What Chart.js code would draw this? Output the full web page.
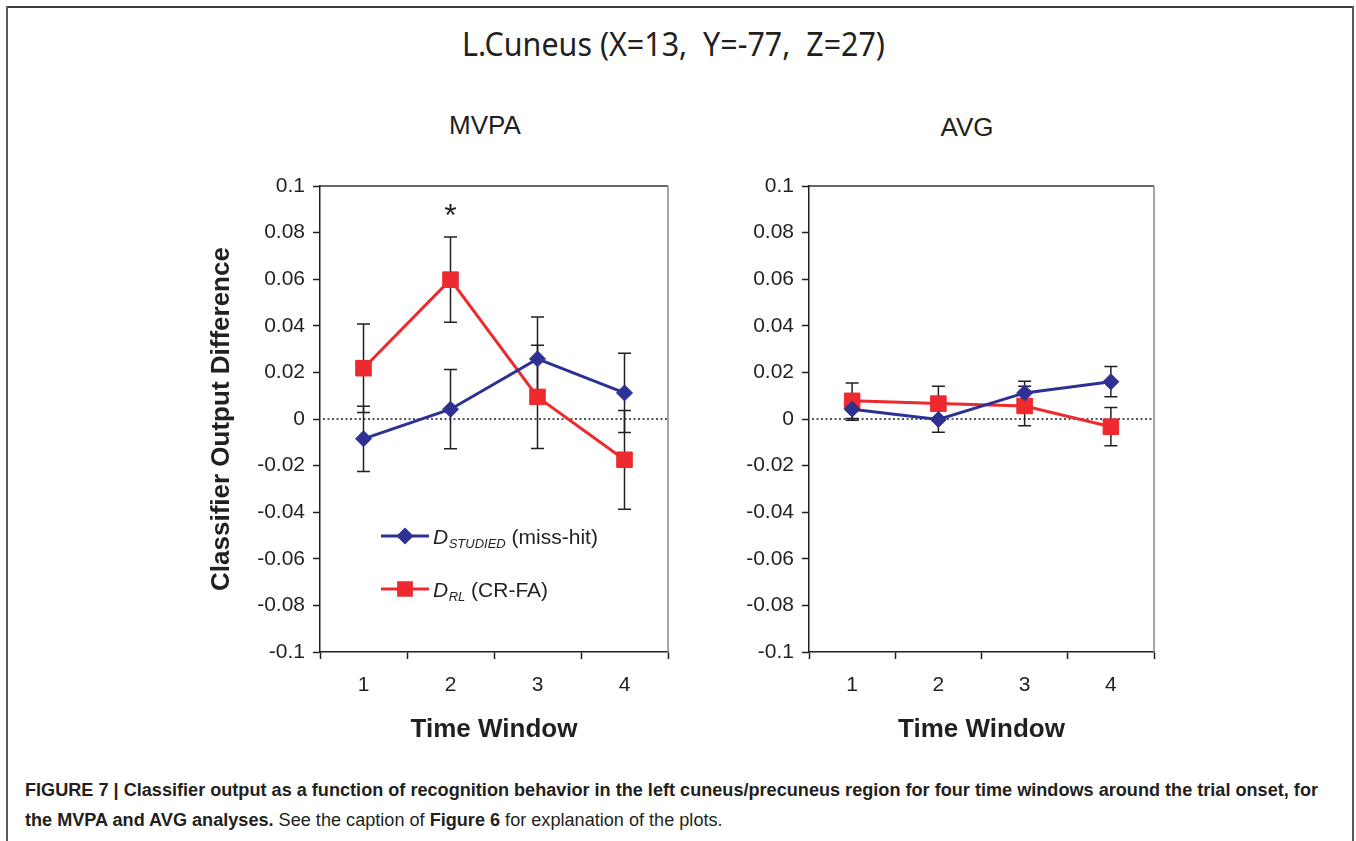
<!DOCTYPE html>
<html lang="en">
<head>
<meta charset="UTF-8">
<title>L.Cuneus - classifier output</title>
<script src="https://cdn.jsdelivr.net/npm/chart.js"></script>
<style>
  html, body { margin: 0; padding: 0; background: #fff; }
  body { width: 1356px; height: 841px; position: relative; overflow: hidden;
         font-family: "Liberation Sans", Arial, sans-serif; color: #231f20; }
  .line { position: absolute; }
  #frameTop { left: 6px; top: 6px; width: 1348px; height: 2px; background: #3c3c3c; }
  #frameLeft { left: 6px; top: 6px; width: 2px; height: 835px; background: #5a5a5a; }
  #frameRight { left: 1352px; top: 6px; width: 2px; height: 835px; background: #5a5a5a; }
  #title { position: absolute; left: 462px; top: 24px; font-family: "Noto Sans", sans-serif;
           font-size: 33px; line-height: 40px; white-space: pre; transform-origin: 0 0; }
  .sub { position: absolute; width: 200px; text-align: center; font-size: 26px; line-height: 30px; }
  .box { position: absolute; }
  #caption { position: absolute; left: 25px; top: 775px; font-size: 18px; line-height: 30px;
             white-space: nowrap; transform-origin: 0 0; }
  #caption b { font-weight: bold; }
</style>
</head>
<body>
<div class="line" id="frameTop"></div>
<div class="line" id="frameLeft"></div>
<div class="line" id="frameRight"></div>

<div id="title">L.Cuneus (X=13,  Y=-77,  Z=27)</div>
<div class="sub" style="left:385px; top:110px;">MVPA</div>
<div class="sub" style="left:867px; top:112px;">AVG</div>

<div class="box" style="left:190px; top:140px;"><canvas id="mvpa" width="500" height="620"></canvas></div>
<div class="box" style="left:700px; top:140px;"><canvas id="avg" width="480" height="620"></canvas></div>

<div id="caption">
  <div id="cap1"><b>FIGURE 7 | Classifier output as a function of recognition behavior in the left cuneus/precuneus region for four time windows around the trial onset, for</b></div>
  <div><b>the MVPA and AVG analyses.</b> See the caption of <b>Figure 6</b> for explanation of the plots.</div>
</div>

<script>
// data
const windows = ['1', '2', '3', '4'];
const yTickLabels = ['-0.1', '-0.08', '-0.06', '-0.04', '-0.02', '0', '0.02', '0.04', '0.06', '0.08', '0.1'];

const mvpaStudied    = [-0.0085, 0.0042, 0.0258, 0.0112];
const mvpaStudiedErr = [0.0140, 0.0170, 0.0180, 0.0170];
const mvpaRL         = [0.0218, 0.0598, 0.0095, -0.0175];
const mvpaRLErr      = [0.0190, 0.0183, 0.0222, 0.0212];

const avgStudied    = [0.0042, -0.0002, 0.0112, 0.0160];
const avgStudiedErr = [0.0047, 0.0055, 0.0050, 0.0065];
const avgRL         = [0.0078, 0.0066, 0.0056, -0.0033];
const avgRLErr      = [0.0076, 0.0075, 0.0085, 0.0082];

const mvpaSignif = ['', '*', '', ''];
const signifLevel = 0.088;

const BLUE = '#2e3192';
const RED = '#ec2a2f';
const INK = '#231f20';

Chart.defaults.font.family = '"Liberation Sans", Arial, sans-serif';
Chart.defaults.color = INK;

// error bars + dotted zero line, drawn under the series
const underlay = {
  id: 'underlay',
  beforeDatasetsDraw(chart) {
    const ctx = chart.ctx, y = chart.scales.y, a = chart.chartArea;
    ctx.save();
    ctx.strokeStyle = INK;
    ctx.lineWidth = 1.5;
    ctx.setLineDash([2, 2.5]);
    ctx.beginPath();
    ctx.moveTo(a.left + 3, y.getPixelForValue(0));
    ctx.lineTo(a.right, y.getPixelForValue(0));
    ctx.stroke();
    ctx.setLineDash([]);
    chart.data.datasets.forEach((ds, i) => {
      const meta = chart.getDatasetMeta(i);
      ds.data.forEach((v, j) => {
        const x = meta.data[j].x;
        const top = y.getPixelForValue(v + ds.errors[j]);
        const bot = y.getPixelForValue(v - ds.errors[j]);
        ctx.beginPath();
        ctx.moveTo(x, top); ctx.lineTo(x, bot);
        ctx.moveTo(x - 6.5, top); ctx.lineTo(x + 6.5, top);
        ctx.moveTo(x - 6.5, bot); ctx.lineTo(x + 6.5, bot);
        ctx.stroke();
      });
    });
    ctx.restore();
  },
  afterDraw(chart) {
    // top and right edges of the plot box
    const ctx = chart.ctx, a = chart.chartArea;
    ctx.save();
    ctx.lineWidth = 1.5;
    ctx.strokeStyle = '#333';
    ctx.beginPath();
    ctx.moveTo(a.left, a.top); ctx.lineTo(a.right, a.top);
    ctx.stroke();
    ctx.strokeStyle = '#8a8a8a';
    ctx.beginPath();
    ctx.moveTo(a.right, a.top); ctx.lineTo(a.right, a.bottom);
    ctx.stroke();
    ctx.restore();
  }
};

// significance stars and the in-plot legend (subscripted labels)
const annot = {
  id: 'annot',
  afterDraw(chart, args, opts) {
    const ctx = chart.ctx, a = chart.chartArea;
    ctx.save();
    if (opts.marks) {
      const meta = chart.getDatasetMeta(0);
      ctx.font = '32px "Liberation Sans", Arial';
      ctx.fillStyle = INK;
      ctx.textAlign = 'center';
      ctx.textBaseline = 'alphabetic';
      opts.marks.forEach((m, j) => {
        if (m) ctx.fillText(m, meta.data[j].x, chart.scales.y.getPixelForValue(signifLevel) + 12);
      });
    }
    if (opts.legend) {
      opts.legend.forEach((item, k) => {
        const x0 = a.left + 61;
        const yc = a.top + 350 + k * 53;
        ctx.strokeStyle = item.color;
        ctx.fillStyle = item.color;
        ctx.lineWidth = 3;
        ctx.beginPath();
        ctx.moveTo(x0, yc); ctx.lineTo(x0 + 48, yc);
        ctx.stroke();
        Chart.helpers.drawPoint(ctx, { pointStyle: item.style, radius: item.r, borderWidth: 1 }, x0 + 24, yc);
        ctx.fill();
        ctx.fillStyle = INK;
        ctx.textAlign = 'left';
        ctx.textBaseline = 'alphabetic';
        let x = x0 + 52;
        const base = yc + 7.5;
        ctx.font = 'italic 21px "Liberation Sans", Arial';
        ctx.fillText('D', x, base);
        x += ctx.measureText('D').width + 0.5;
        ctx.font = 'italic 13px "Liberation Sans", Arial';
        ctx.fillText(item.sub, x, base + 4);
        x += ctx.measureText(item.sub).width;
        ctx.font = '21px "Liberation Sans", Arial';
        ctx.fillText(' ' + item.rest, x, base);
      });
    }
    ctx.restore();
  }
};

function series(label, values, errors, color, style, radius) {
  return {
    label, data: values, errors,
    borderColor: color, backgroundColor: color,
    borderWidth: 3, pointStyle: style, pointRadius: radius,
    pointBorderWidth: 1, pointBackgroundColor: color, pointBorderColor: color,
    tension: 0
  };
}

function buildChart(id, studied, studiedErr, rl, rlErr, yWidth, padRight, yTitle, extra) {
  return new Chart(document.getElementById(id), {
    type: 'line',
    data: {
      labels: windows,
      datasets: [
        series('D STUDIED (miss-hit)', studied, studiedErr, BLUE, 'rectRot', 8),
        series('D RL (CR-FA)', rl, rlErr, RED, 'rect', 11)
      ]
    },
    options: {
      responsive: false,
      animation: false,
      layout: { padding: { top: 46, right: padRight, bottom: 0, left: 0 } },
      plugins: {
        legend: { display: false },
        tooltip: { enabled: false },
        annot: extra
      },
      scales: {
        x: {
          type: 'category',
          offset: true,
          grid: { offset: true, drawOnChartArea: false, tickLength: 7, tickWidth: 1.5, tickColor: INK },
          border: { color: INK, width: 1.5 },
          ticks: { font: { size: 21 }, padding: 14, maxRotation: 0 },
          title: { display: true, text: 'Time Window', font: { size: 26, weight: 'bold' }, padding: { top: 4, bottom: 15 } },
          afterFit: s => { s.height = 108; }
        },
        y: {
          min: -0.1, max: 0.1,
          grid: { drawOnChartArea: false, tickLength: 7, tickWidth: 1.5, tickColor: INK },
          border: { color: INK, width: 1.5 },
          ticks: { stepSize: 0.02, font: { size: 21 }, padding: 8, callback: (v, i) => yTickLabels[i] },
          title: { display: !!yTitle, text: yTitle || '', font: { size: 26, weight: 'bold' }, padding: { top: 16, bottom: 4 } },
          afterFit: s => { s.width = yWidth; }
        }
      }
    },
    plugins: [underlay, annot]
  });
}

buildChart('mvpa', mvpaStudied, mvpaStudiedErr, mvpaRL, mvpaRLErr, 130, 22, 'Classifier Output Difference', {
  marks: mvpaSignif,
  legend: [
    { color: BLUE, style: 'rectRot', r: 6.5, sub: 'STUDIED', rest: '(miss-hit)' },
    { color: RED, style: 'rect', r: 9, sub: 'RL', rest: '(CR-FA)' }
  ]
});
buildChart('avg', avgStudied, avgStudiedErr, avgRL, avgRLErr, 109, 26, '', {});

// squeeze the condensed-looking title and caption to their printed widths
document.fonts.ready.then(() => {
  const t = document.getElementById('title');
  t.style.transform = 'scaleX(' + (423 / t.getBoundingClientRect().width) + ')';
  const c = document.getElementById('caption');
  const w = document.getElementById('cap1').firstChild.getBoundingClientRect().width;
  c.style.transform = 'scaleX(' + (1293 / w) + ')';
});
</script>
</body>
</html>
